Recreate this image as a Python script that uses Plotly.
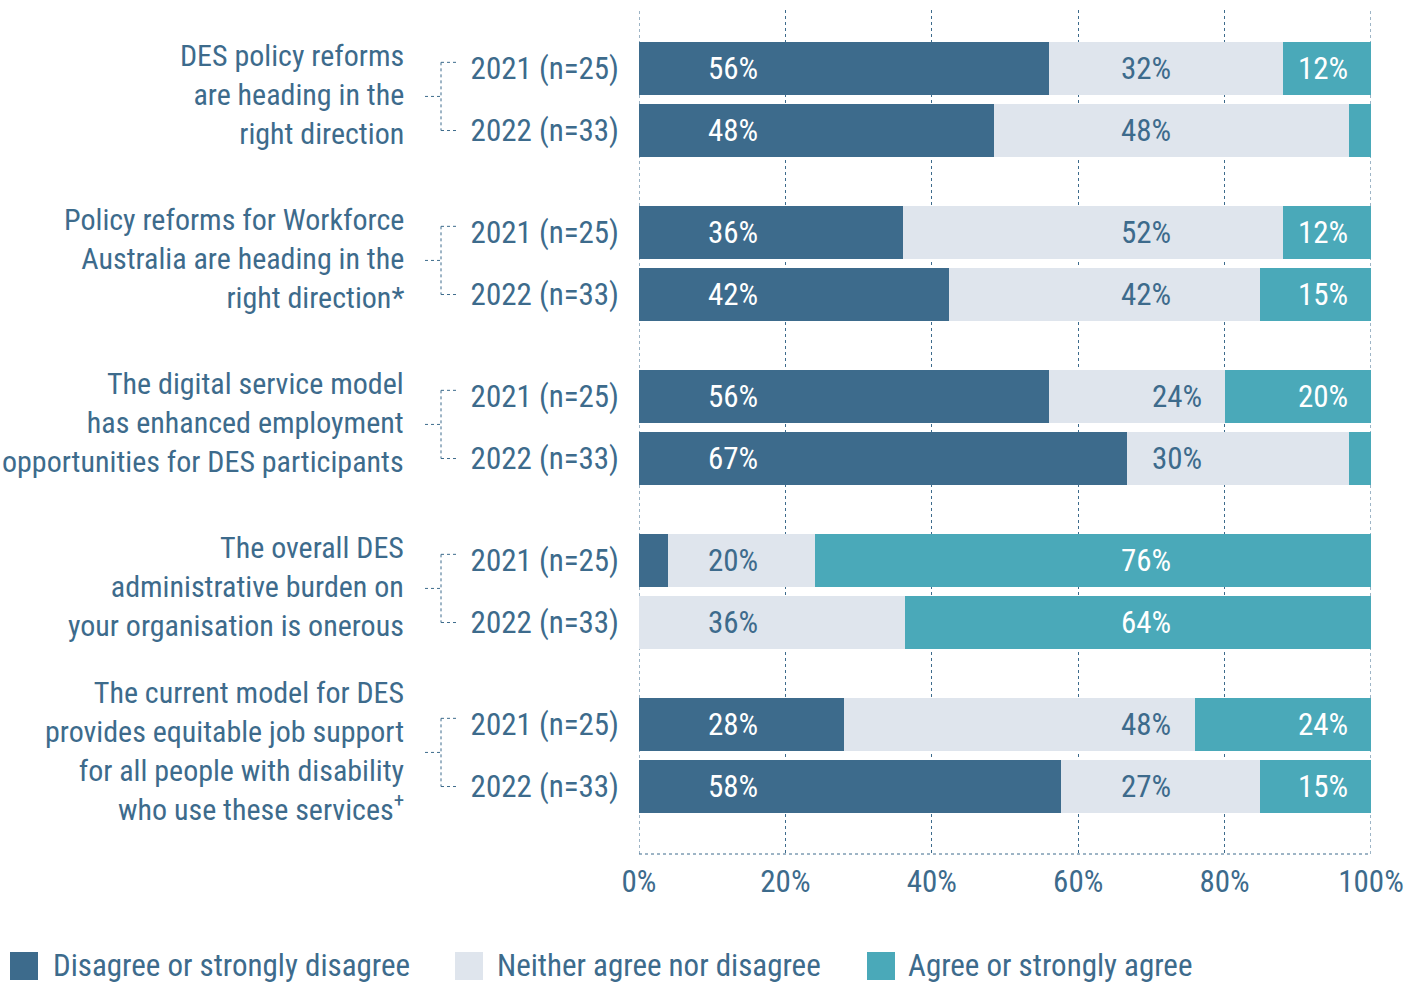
import plotly.graph_objects as go

# survey statements (one per group) and the two survey years
questions = [
    "DES policy reforms<br>are heading in the<br>right direction",
    "Policy reforms for Workforce<br>Australia are heading in the<br>right direction*",
    "The digital service model<br>has enhanced employment<br>opportunities for DES participants",
    "The overall DES<br>administrative burden on<br>your organisation is onerous",
    "The current model for DES<br>provides equitable job support<br>for all people with disability<br>who use these services<sup>+</sup>",
]
years = ["2021 (n=25)", "2022 (n=33)"]

# shares per bar, in order: q1-2021, q1-2022, q2-2021, ...
disagree = [56, 48.5, 36, 42.4, 56, 66.7, 4, 0, 28, 57.6]
neither = [32, 48.5, 52, 42.4, 24, 30.3, 20, 36.4, 48, 27.3]
agree = [12, 3.0, 12, 15.2, 20, 3.0, 76, 63.6, 24, 15.2]

disagree_lbl = ["56%", "48%", "36%", "42%", "56%", "67%", "", "", "28%", "58%"]
neither_lbl = ["32%", "48%", "52%", "42%", "24%", "30%", "20%", "36%", "48%", "27%"]
agree_lbl = ["12%", "", "12%", "15%", "20%", "", "76%", "64%", "24%", "15%"]

x_ticks = [0, 20, 40, 60, 80, 100]

# colours / styling
DARK = "#3d6b8c"
LIGHT = "#dfe5ed"
TEAL = "#4aa9b9"
TXT = "#3d6b8c"
FONT = "Liberation Sans Narrow, Roboto Condensed, Arial Narrow, Roboto, sans-serif"
FS = 31
FS_Q = 30

W, H = 1409, 983
L, R, T, B = 639, 38, 10, 129
GROUP_STEP = 164 / 62
BAR_W = 53 / 62

# label columns (percent of axis) where the in-bar labels sit
COL = {"a": 12.8, "b": 69.3, "c": 73.5, "d": 93.4}
neither_col = ["b", "b", "b", "b", "c", "c", "a", "a", "b", "b"]
agree_col = ["d", "d", "d", "d", "d", "d", "b", "b", "d", "d"]

y_pos = [g * GROUP_STEP + i for g in range(len(questions)) for i in range(len(years))]
y_text = [years[i] for g in range(len(questions)) for i in range(len(years))]


def px_x(x):
    return (x - L) / (W - L - R)


def px_y(y):
    return (H - B - y) / (H - T - B)


fig = go.Figure()
for name, vals, col in [
    ("Disagree or strongly disagree", disagree, DARK),
    ("Neither agree nor disagree", neither, LIGHT),
    ("Agree or strongly agree", agree, TEAL),
]:
    fig.add_trace(go.Bar(
        x=vals, y=y_pos, orientation="h", name=name, width=BAR_W,
        marker=dict(color=col, line=dict(width=0)), showlegend=False,
        hoverinfo="skip",
    ))

annotations = []
for k, y in enumerate(y_pos):
    if disagree_lbl[k]:
        annotations.append(dict(x=COL["a"], y=y, text=disagree_lbl[k], showarrow=False,
                                font=dict(color="white", size=FS, family=FONT)))
    if neither_lbl[k]:
        annotations.append(dict(x=COL[neither_col[k]], y=y, text=neither_lbl[k], showarrow=False,
                                font=dict(color=TXT, size=FS, family=FONT)))
    if agree_lbl[k]:
        annotations.append(dict(x=COL[agree_col[k]], y=y, text=agree_lbl[k], showarrow=False,
                                font=dict(color="white", size=FS, family=FONT)))

shapes = []
for g, q in enumerate(questions):
    y0 = g * GROUP_STEP
    y1 = y0 + 1
    ym = (y0 + y1) / 2
    annotations.append(dict(x=px_x(406), xref="paper", y=ym, yref="y", text=q,
                            showarrow=False, xanchor="right", align="right", yshift=5,
                            font=dict(color=TXT, size=FS_Q, family=FONT)))
    # bracket joining the two year labels
    line = dict(color=TXT, width=1, dash="dot")
    top = y0 - 0.1
    shapes += [
        dict(type="line", xref="paper", yref="y", x0=px_x(425), x1=px_x(441), y0=ym - 0.05, y1=ym - 0.05, line=line),
        dict(type="line", xref="paper", yref="y", x0=px_x(441), x1=px_x(441), y0=top, y1=y1, line=line),
        dict(type="line", xref="paper", yref="y", x0=px_x(441), x1=px_x(456), y0=top, y1=top, line=line),
        dict(type="line", xref="paper", yref="y", x0=px_x(441), x1=px_x(456), y0=y1, y1=y1, line=line),
    ]

# dotted baseline and edge gridlines (0% / 100%)
shapes.append(dict(type="line", xref="paper", yref="paper", x0=0, x1=1, y0=0, y1=0,
                   line=dict(color=TXT, width=1, dash="dot")))
for xv in (x_ticks[0], x_ticks[-1]):
    shapes.append(dict(type="line", xref="x", yref="paper", x0=xv, x1=xv, y0=0, y1=1,
                       layer="below", line=dict(color=TXT, width=1, dash="dot")))

# legend drawn as squares + text
legend_items = [("Disagree or strongly disagree", DARK, 10, 51),
                ("Neither agree nor disagree", LIGHT, 455, 495),
                ("Agree or strongly agree", TEAL, 867, 906)]
for name, col, sx, tx in legend_items:
    shapes.append(dict(type="rect", xref="paper", yref="paper",
                       x0=px_x(sx), x1=px_x(sx + 28), y0=px_y(952), y1=px_y(980),
                       fillcolor=col, line=dict(width=0)))
    annotations.append(dict(x=px_x(tx), xref="paper", y=px_y(965), yref="paper", text=name,
                            showarrow=False, xanchor="left", yanchor="middle",
                            font=dict(color=TXT, size=FS, family=FONT)))

fig.update_layout(
    barmode="stack",
    width=W, height=H, autosize=False,
    margin=dict(l=L, r=R, t=T, b=B),
    plot_bgcolor="white", paper_bgcolor="white",
    font=dict(family=FONT, size=FS, color=TXT),
    annotations=annotations,
    shapes=shapes,
    xaxis=dict(range=[0, 100], tickvals=x_ticks, ticktext=[f"{v}%" for v in x_ticks],
               showgrid=True, gridcolor=TXT, griddash="dot", gridwidth=1,
               zeroline=False, showline=False, ticks="", fixedrange=True,
               automargin=False, ticklabelstandoff=6,
               tickfont=dict(size=FS, color=TXT, family=FONT)),
    yaxis=dict(range=[(H - T - B) / 62 - 0.944, -0.944], tickvals=y_pos, ticktext=y_text,
               showgrid=False, zeroline=False, showline=False, ticks="",
               automargin=False, ticklabelstandoff=19,
               tickfont=dict(size=FS, color=TXT, family=FONT)),
)

fig.write_html("out.html", config={"displayModeBar": False},
               post_script="document.body.style.margin='0';")
